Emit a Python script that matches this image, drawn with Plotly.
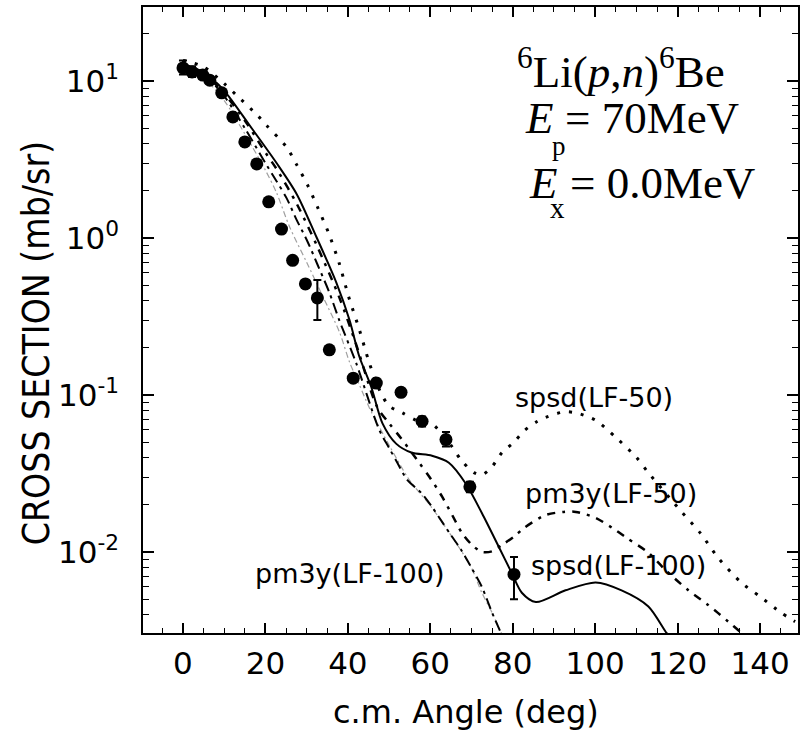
import plotly.graph_objects as go

# ---------------- data ----------------
angle_exp = [0, 2.2, 4.8, 6.5, 9.4, 12.1, 15.0, 17.9, 20.8, 23.9, 26.6, 29.7, 32.6,
             35.5, 41.3, 46.9, 52.9, 58.0, 63.8, 69.6, 80.3]
xs_exp = [12.1, 11.4, 10.9, 10.1, 8.4, 5.9, 4.09, 2.96, 1.70, 1.14, 0.72, 0.51, 0.415,
          0.194, 0.128, 0.119, 0.104, 0.068, 0.052, 0.026, 0.0072]
err_plus = [1.4, 1.0, 0.8, 0.6, 0.4, 0, 0, 0, 0, 0, 0, 0, 0.125,
            0, 0, 0.008, 0.006, 0.005, 0.006, 0.002, 0.0021]
err_minus = [1.1, 0.8, 0.6, 0.5, 0.3, 0, 0, 0, 0, 0, 0, 0, 0.115,
             0, 0, 0.008, 0.006, 0.005, 0.005, 0.002, 0.0022]

ang_spsd50 = [0, 5, 10, 12.8, 17.9, 20.3, 25.1, 27.6, 30.2, 32.6, 35.3, 37.9, 40.1, 42.8,
              45.2, 47.5, 50, 53.2, 56.6, 60.2, 64, 67.5, 70.6, 72.5, 75, 77.4, 80.3, 82.7,
              85.6, 88, 92.4, 95.3, 100.1, 104.9, 110, 112.9, 120.2, 125.5, 129.8, 135.4,
              140, 145.1, 148.5]
val_spsd50 = [13.5, 12.3, 9.6, 8.2, 6.1, 5.2, 3.8, 2.92, 2.18, 1.58, 1.08, 0.69, 0.43, 0.26,
              0.16, 0.11, 0.085, 0.077, 0.069, 0.066, 0.052, 0.0385, 0.032, 0.031, 0.035,
              0.043, 0.050, 0.059, 0.067, 0.072, 0.078, 0.077, 0.069, 0.054, 0.040, 0.032,
              0.019, 0.0132, 0.0092, 0.0064, 0.0052, 0.0041, 0.0036]

ang_pm50 = [0, 5, 10, 15, 20, 22.7, 27.6, 32.6, 37.9, 42, 47.1, 50, 52.9, 57.3, 60.2,
            62.9, 65.3, 67.7, 70.1, 72.5, 75, 77.4, 80.3, 82.7, 88, 92.4, 95.3, 100.1,
            104.9, 107.6, 112.9, 117, 122.6, 127.4, 132.3, 135.2, 136.5]
val_pm50 = [13.0, 11.2, 8.3, 5.6, 3.5, 2.75, 1.65, 0.88, 0.42, 0.21, 0.084, 0.066, 0.053,
            0.037, 0.029, 0.0224, 0.0172, 0.0132, 0.0111, 0.0100, 0.0101, 0.0111, 0.0125,
            0.0142, 0.0172, 0.0180, 0.0180, 0.0165, 0.0138, 0.0123, 0.0099, 0.0077,
            0.0057, 0.0046, 0.0036, 0.0031, 0.0029]

ang_spsd100 = [0, 5, 8.2, 10.9, 16.2, 22.7, 27.6, 32.4, 37.2, 40.4, 42.8, 45.7, 48.4,
               51.7, 55.4, 60.4, 64.5, 68.7, 72.5, 76.6, 79.8, 82.2, 85.6, 92.8, 100.1,
               106.4, 112.9, 117.3, 118.5]
val_spsd100 = [13.0, 11.0, 9.7, 8.1, 5.2, 3.0, 1.9, 1.01, 0.52, 0.30, 0.175, 0.112,
               0.066, 0.049, 0.043, 0.041, 0.037, 0.027, 0.0177, 0.0108, 0.0073, 0.0055,
               0.0048, 0.0057, 0.0064, 0.0057, 0.0045, 0.00305, 0.0028]

ang_pm100 = [0, 5, 10, 15, 20, 22.7, 25.1, 27.6, 30.2, 32.6, 35.5, 37.9, 42, 47.6, 50,
             52, 54.4, 57.8, 60.4, 62.9, 65, 67.5, 69.9, 72.5, 75, 77.5]
val_pm100 = [13.0, 11.0, 8.0, 5.0, 3.0, 2.3, 1.8, 1.3, 0.95, 0.68, 0.45, 0.30, 0.16,
             0.060, 0.046, 0.037, 0.0288, 0.0238, 0.0194, 0.0155, 0.0128, 0.0103, 0.008,
             0.006, 0.0041, 0.0029]

ang_faint = [0, 5, 10, 15, 20, 22.7, 25.9, 30, 34, 38, 40.4, 42.8, 45.2, 50, 54.9, 60.2,
             65, 69.9, 72.5, 75, 77.6]
val_faint = [13.0, 10.5, 7.5, 4.6, 2.7, 1.94, 1.17, 0.70, 0.42, 0.25, 0.162, 0.116, 0.083,
             0.048, 0.0288, 0.0194, 0.0128, 0.008, 0.0055, 0.0041, 0.0029]

x_ticks = [0, 20, 40, 60, 80, 100, 120, 140]
y_ticks = [0.01, 0.1, 1, 10]
y_ticktext = ["10<sup>-2</sup>", "10<sup>-1</sup>", "10<sup>0</sup>", "10<sup>1</sup>"]

# ---------------- figure ----------------
fig = go.Figure()

fig.add_trace(go.Scatter(x=ang_faint, y=val_faint, mode="lines",
                         line=dict(color="#a0a0a0", width=1.2, dash="6px,3px,2px,3px",
                                   shape="spline", smoothing=0.8),
                         showlegend=False))
fig.add_trace(go.Scatter(x=ang_pm100, y=val_pm100, mode="lines",
                         line=dict(color="black", width=2, dash="11px,5px,3px,5px",
                                   shape="spline", smoothing=0.8),
                         showlegend=False))
fig.add_trace(go.Scatter(x=ang_pm50, y=val_pm50, mode="lines",
                         line=dict(color="black", width=2.5, dash="3px,7px,8px,7px",
                                   shape="spline", smoothing=0.8),
                         showlegend=False))
fig.add_trace(go.Scatter(x=ang_spsd100, y=val_spsd100, mode="lines",
                         line=dict(color="black", width=2, shape="spline", smoothing=0.8),
                         showlegend=False))
fig.add_trace(go.Scatter(x=ang_spsd50, y=val_spsd50, mode="lines",
                         line=dict(color="black", width=3, dash="3px,9px",
                                   shape="spline", smoothing=0.8),
                         showlegend=False))
fig.add_trace(go.Scatter(x=angle_exp, y=xs_exp, mode="markers",
                         marker=dict(color="black", size=13),
                         error_y=dict(type="data", array=err_plus, arrayminus=err_minus,
                                      color="black", thickness=2, width=4),
                         showlegend=False))

minor_y = [m * 10.0 ** e for e in range(-3, 2) for m in range(2, 10)]

axis_common = dict(showline=True, linecolor="black", linewidth=1.5, mirror="allticks",
                   ticks="inside", tickcolor="black", showgrid=False, zeroline=False,
                   tickfont=dict(family="DejaVu Sans", size=31, color="black"))

fig.update_xaxes(range=[-9.7, 149.2], tickvals=x_ticks, ticklen=10, tickwidth=1.5,
                 minor=dict(ticks="inside", dtick=5, tick0=0, ticklen=5, tickwidth=1,
                            tickcolor="black", showgrid=False),
                 ticklabelstandoff=2, **axis_common)
fig.update_yaxes(type="log", range=[-2.516, 1.471], tickvals=y_ticks, ticktext=y_ticktext,
                 ticklen=11, tickwidth=1.5,
                 minor=dict(ticks="inside", tickvals=minor_y, ticklen=6, tickwidth=1,
                            tickcolor="black", showgrid=False),
                 ticklabelstandoff=16, **axis_common)

W, H = 803, 745
L, R, T, B = 143, 3, 7, 112
pw, ph = W - L - R, H - T - B


def px(xp):
    return (xp - L) / pw


def py(yp):
    return (H - B - yp) / ph


annots = []
serif = "Liberation Serif"
sans = "DejaVu Sans"
# reaction text
annots.append(dict(text="<sup>6</sup>Li(<i>p</i>,<i>n</i>)<sup>6</sup>Be", x=px(516), y=py(68),
                   xanchor="left", yanchor="middle", font=dict(family=serif, size=45)))
annots.append(dict(text="<i>E</i>", x=px(524), y=py(118), xanchor="left", yanchor="middle",
                   font=dict(family=serif, size=45)))
annots.append(dict(text="p", x=px(551), y=py(146), xanchor="left", yanchor="middle",
                   font=dict(family=serif, size=27)))
annots.append(dict(text="= 70MeV", x=px(564), y=py(118), xanchor="left", yanchor="middle",
                   font=dict(family=serif, size=45)))
annots.append(dict(text="<i>E</i>", x=px(528), y=py(183), xanchor="left", yanchor="middle",
                   font=dict(family=serif, size=45)))
annots.append(dict(text="x", x=px(549), y=py(208), xanchor="left", yanchor="middle",
                   font=dict(family=serif, size=29)))
annots.append(dict(text="= 0.0MeV", x=px(569), y=py(183), xanchor="left", yanchor="middle",
                   font=dict(family=serif, size=45)))
# curve labels
for txt, cx, cy in [("spsd(LF-50)", 595, 398), ("pm3y(LF-50)", 612, 493),
                    ("spsd(LF-100)", 620, 565), ("pm3y(LF-100)", 351, 573)]:
    annots.append(dict(text=txt, x=px(cx), y=py(cy), xanchor="center", yanchor="middle",
                       font=dict(family=sans, size=27)))
# axis titles
annots.append(dict(text="c.m. Angle (deg)", x=px(467), y=py(712), xanchor="center",
                   yanchor="middle", font=dict(family=sans, size=32)))
annots.append(dict(text="CROSS SECTION (mb/sr)", x=px(36), y=py(343), xanchor="center",
                   yanchor="middle", textangle=-90,
                   font=dict(family="Liberation Sans Narrow, DejaVu Sans Condensed, DejaVu Sans",
                             size=37)))

for a in annots:
    a.update(xref="paper", yref="paper", showarrow=False)
    a["font"]["color"] = "black"

fig.update_layout(width=W, height=H, margin=dict(l=L, r=R, t=T, b=B),
                  paper_bgcolor="white", plot_bgcolor="white", annotations=annots,
                  showlegend=False)

fig.write_html("out.html", config={"displayModeBar": False},
               post_script="document.body.style.margin='0px';"
                           "document.body.style.padding='0px';"
                           "document.body.style.overflow='hidden';")
